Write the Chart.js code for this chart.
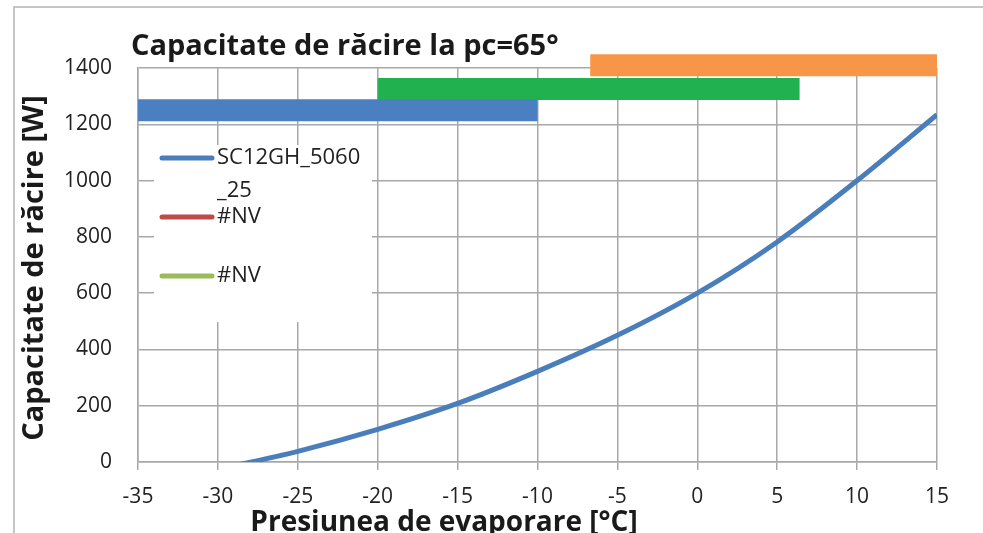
<!DOCTYPE html>
<html>
<head>
<meta charset="utf-8">
<script src="https://cdn.jsdelivr.net/npm/chart.js@4"></script>
<style>
  html, body { margin: 0; padding: 0; background: #fff; }
  #wrap { width: 983px; height: 533px; }
</style>
</head>
<body>
<div id="wrap"><canvas id="cooling" width="983" height="533"></canvas></div>
<script>
// values
const evapTemps = [-30, -25, -20, -15, -10, -5, 0, 5, 10, 15];
const capacity = [-26, 38, 116, 208, 322, 450, 600, 782, 1000, 1234];

const blueRange = [-35, -10];
const blueLevel = 1250;
const greenRange = [-20, 6.4];
const greenLevel = 1325;
const orangeRange = [-6.7, 15];
const orangeLevel = 1410;

const xTicks = [-35, -30, -25, -20, -15, -10, -5, 0, 5, 10, 15];
const yTicks = [0, 200, 400, 600, 800, 1000, 1200, 1400];

const chartTitle = 'Capacitate de răcire la pc=65°';
const xTitle = 'Presiunea de evaporare [°C]';
const yTitle = 'Capacitate de răcire [W]';

const fontFamily = '"Open Sans", "Noto Sans", sans-serif';
const gridColor = '#a8a8a8';

function rangeLine(range, level) {
  return [{x: range[0], y: level}, {x: range[1], y: level}];
}

// frame, titles and the legend box, drawn like the Excel original
const excelDecor = {
  id: 'excelDecor',
  beforeDraw(chart) {
    const ctx = chart.ctx;
    ctx.save();
    ctx.fillStyle = '#fff';
    ctx.fillRect(0, 0, chart.width, chart.height);
    ctx.strokeStyle = '#b4b4b4';
    ctx.lineWidth = 1.5;
    ctx.beginPath();
    ctx.moveTo(14, chart.height);
    ctx.lineTo(14, 7);
    ctx.lineTo(chart.width, 7);
    ctx.stroke();
    ctx.restore();
  },
  afterDatasetsDraw(chart) {
    const ctx = chart.ctx;
    const area = chart.chartArea;
    ctx.save();

    // legend
    const bx = area.left + 16, by = area.top + 77;
    ctx.fillStyle = '#fff';
    ctx.fillRect(bx, by, 218, 177);
    ctx.font = '22px ' + fontFamily;
    ctx.textBaseline = 'middle';
    let rowY = by + 13;
    chart.data.datasets.forEach(function(ds) {
      if (!ds.inLegend) return;
      ctx.strokeStyle = ds.borderColor;
      ctx.lineWidth = 5;
      ctx.lineCap = 'round';
      ctx.beginPath();
      ctx.moveTo(bx + 8, rowY);
      ctx.lineTo(bx + 58, rowY);
      ctx.stroke();
      ctx.fillStyle = '#222';
      const lines = wrapChars(ctx, ds.label, 146);
      lines.forEach(function(l, i) {
        ctx.fillText(l, bx + 63, rowY + i * 33);
      });
      rowY += 59;
    });

    // titles
    ctx.fillStyle = '#1a1a1a';
    ctx.font = 'bold 29px ' + fontFamily;
    ctx.textBaseline = 'alphabetic';
    ctx.textAlign = 'left';
    ctx.fillText(chartTitle, 131, 55);

    ctx.font = 'bold 28px ' + fontFamily;
    ctx.textAlign = 'center';
    ctx.fillText(xTitle, 444, 531);

    ctx.font = 'bold 29px ' + fontFamily;
    ctx.translate(43, 268);
    ctx.rotate(-Math.PI / 2);
    ctx.fillText(yTitle, 0, 0);
    ctx.restore();
  }
};

function wrapChars(ctx, text, maxW) {
  const out = [];
  let cur = '';
  for (const ch of text) {
    if (cur && ctx.measureText(cur + ch).width > maxW) {
      out.push(cur);
      cur = ch;
    } else {
      cur += ch;
    }
  }
  if (cur) out.push(cur);
  return out;
}

const config = {
  type: 'line',
  data: {
    datasets: [
      {
        label: 'SC12GH_5060_25',
        data: evapTemps.map((t, i) => ({x: t, y: capacity[i]})),
        borderColor: '#4a7ebb',
        borderWidth: 5,
        pointRadius: 0,
        cubicInterpolationMode: 'monotone',
        inLegend: true
      },
      {
        label: '#NV',
        data: [],
        borderColor: '#be4b48',
        inLegend: true
      },
      {
        label: '#NV',
        data: [],
        borderColor: '#9bbb59',
        inLegend: true
      },
      {
        label: 'blue',
        data: rangeLine(blueRange, blueLevel),
        borderColor: '#4a7fc1',
        borderWidth: 22,
        borderCapStyle: 'butt',
        pointRadius: 0,
        clip: false
      },
      {
        label: 'green',
        data: rangeLine(greenRange, greenLevel),
        borderColor: '#21b14f',
        borderWidth: 22,
        borderCapStyle: 'butt',
        pointRadius: 0,
        clip: false
      },
      {
        label: 'orange',
        data: rangeLine(orangeRange, orangeLevel),
        borderColor: '#f79646',
        borderWidth: 22,
        borderCapStyle: 'butt',
        pointRadius: 0,
        clip: false
      }
    ]
  },
  options: {
    responsive: false,
    animation: false,
    layout: {
      padding: {left: 0, top: 68, right: 46, bottom: 0}
    },
    scales: {
      x: {
        type: 'linear',
        min: xTicks[0],
        max: xTicks[xTicks.length - 1],
        afterBuildTicks: function(scale) {
          scale.ticks = xTicks.map(v => ({value: v}));
        },
        afterFit: function(scale) { scale.height = 71; },
        grid: {color: gridColor, lineWidth: 1.5, tickLength: 8},
        border: {color: gridColor, width: 1.5},
        ticks: {
          color: '#222',
          font: {family: fontFamily, size: 21},
          padding: 14,
          maxRotation: 0,
          callback: v => String(v)
        }
      },
      y: {
        min: yTicks[0],
        max: yTicks[yTicks.length - 1],
        afterBuildTicks: function(scale) {
          scale.ticks = yTicks.map(v => ({value: v}));
        },
        afterFit: function(scale) { scale.width = 138; },
        grid: {color: gridColor, lineWidth: 1.5, drawTicks: false},
        border: {color: gridColor, width: 1.5},
        ticks: {
          color: '#222',
          font: {family: fontFamily, size: 21},
          padding: 26,
          callback: v => String(v)
        }
      }
    },
    plugins: {
      legend: {display: false},
      tooltip: {enabled: false}
    }
  },
  plugins: [excelDecor]
};

new Chart(document.getElementById('cooling'), config);
</script>
</body>
</html>
